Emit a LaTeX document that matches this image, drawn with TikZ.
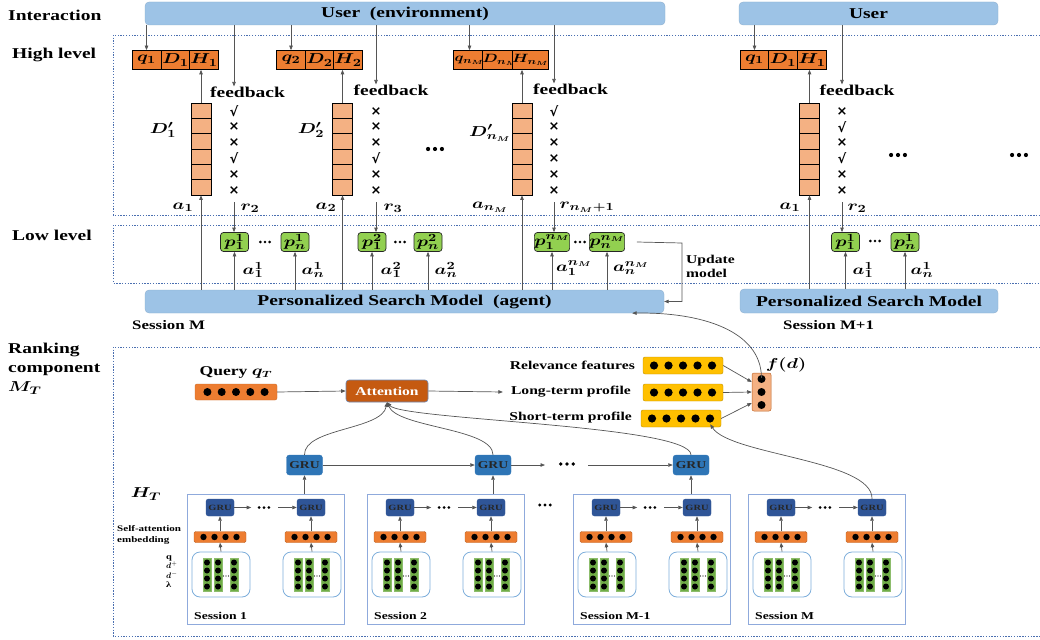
\documentclass[tikz,border=0pt]{standalone}
\usepackage{fontspec}
\usepackage{bm}
\usepackage{graphicx}
\setmainfont{Liberation Serif}[FakeStretch=1.3]
\newfontfamily\symfont{DejaVu Sans}
\usetikzlibrary{arrows.meta,calc}

\definecolor{barblue}{HTML}{9DC3E6}
\definecolor{qorange}{HTML}{ED7D31}
\definecolor{lorange}{HTML}{F4B183}
\definecolor{pgreen}{HTML}{92D050}
\definecolor{grublue}{HTML}{2E75B6}
\definecolor{grudark}{HTML}{2F5597}
\definecolor{attn}{HTML}{C55A11}
\definecolor{vyellow}{HTML}{FFC000}
\definecolor{framedot}{HTML}{4A6FB0}
\definecolor{sessedge}{HTML}{8FAADC}
\definecolor{contedge}{HTML}{7DAEDB}
\definecolor{colgreen}{HTML}{70AD47}
\definecolor{wirecol}{HTML}{555555}

% bold math, widened like the text face
\newcommand{\mth}[1]{\scalebox{1.3}[1]{$\bm{#1}$}}
\newcommand{\ck}{√}
\newcommand{\xx}{×}

% one ranked result list of six documents
\newcommand{\doccol}[2]{%
  \foreach \k in {1,...,6}{\node[dcell] (#1\k) at (#2,95.33+15.33*\k) {};}}
% click feedback beside a result list
\newcommand{\markcol}[3]{%
  \foreach \m [count=\k] in {#3}{\node[chk] (#1\k) at (#2,95.3+15.8*\k) {\m};}}
% an ellipsis drawn as three round dots: name, x, y, dot radius
\newcommand{\edots}[4]{%
  \coordinate (#1) at (#2,#3);
  \foreach \j in {-1,0,1}{\fill ($(#1)+(\j*3.3*#4,0)$) circle (#4);}}

\tikzset{
  wire/.style={draw=wirecol, line width=0.7pt},
  arr/.style={wire, -{Triangle[length=4.5pt,width=3.5pt]}},
  lvlframe/.style={draw=framedot, line width=0.8pt, dash pattern=on 1.3pt off 1.5pt},
  sect/.style={inner sep=0pt, font=\fontsize{15}{19}\selectfont\bfseries},
  bar/.style={rectangle, rounded corners=4pt, fill=barblue, draw=barblue!88!black,
    line width=0.3pt, minimum height=23pt, inner sep=0pt,
    font=\fontsize{15}{17}\selectfont\bfseries},
  qcell/.style={rectangle, fill=qorange, draw=black, line width=0.7pt,
    minimum width=29pt, minimum height=19pt, inner sep=0pt,
    font=\fontsize{15}{16}\selectfont},
  dcell/.style={rectangle, fill=lorange, draw=black, line width=0.7pt,
    minimum width=20pt, minimum height=15.33pt, inner sep=0pt},
  pbox/.style={rectangle, rounded corners=3pt, fill=pgreen, draw=black!85,
    line width=0.7pt, minimum width=28pt, minimum height=19pt, inner sep=0pt,
    font=\fontsize{15}{16}\selectfont},
  lbl/.style={inner sep=0pt, font=\fontsize{15}{17}\selectfont\bfseries},
  mlbl/.style={inner sep=0pt, font=\fontsize{15}{17}\selectfont},
  chk/.style={inner sep=0pt, font=\symfont\bfseries\fontsize{13}{13}\selectfont},
  smlbl/.style={inner sep=0pt, font=\fontsize{12}{14}\selectfont\bfseries},
  vec/.style={rectangle, rounded corners=2pt, minimum height=16pt, inner sep=0pt},
  attbox/.style={rectangle, rounded corners=3pt, fill=attn, draw=grudark!70,
    line width=0.6pt, minimum width=82pt, minimum height=22pt, inner sep=0pt,
    text=white, font=\fontsize{12}{14}\selectfont\bfseries},
  grutop/.style={rectangle, rounded corners=3pt, fill=grublue, draw=grublue,
    minimum width=36pt, minimum height=20pt, inner sep=0pt,
    text=black!85, font=\fontsize{10.5}{12}\selectfont\bfseries},
  sgru/.style={rectangle, rounded corners=2.5pt, fill=grudark, draw=grudark,
    minimum width=28pt, minimum height=17pt, inner sep=0pt,
    text=black!85, font=\fontsize{8}{9}\selectfont\bfseries},
  emb/.style={rectangle, rounded corners=1.5pt, fill=qorange, draw=qorange!80!black,
    line width=0.4pt, minimum width=52pt, minimum height=11pt, inner sep=0pt},
  cont/.style={rectangle, rounded corners=8pt, fill=white, draw=contedge,
    line width=0.8pt, minimum width=58pt, minimum height=45pt, inner sep=0pt},
  sess/.style={rectangle, fill=white, draw=sessedge, line width=1pt,
    minimum width=157pt, minimum height=130pt, inner sep=0pt},
  slbl/.style={inner sep=0pt, font=\fontsize{10.5}{12}\selectfont\bfseries},
}

\begin{document}
\begin{tikzpicture}[x=1pt,y=-1pt]
\useasboundingbox (0,0) rectangle (1040,639);

% ---------------- level frames (open on the right) ----------------
\draw[lvlframe] (1040,35) -- (113,35) -- (113,215) -- (1040,215);
\draw[lvlframe] (1040,225) -- (113,225) -- (113,283) -- (1040,283);
\draw[lvlframe] (1040,347) -- (113,347) -- (113,636) -- (1040,636);

% ---------------- row labels ----------------
\node[sect, anchor=west] (tInter) at (8,15) {Interaction};
\node[sect, anchor=west] (tHigh) at (12,55) {High level};
\node[sect, anchor=west] (tLow) at (12,235) {Low level};
\node[sect, anchor=north west, align=left] (tRank) at (8,343)
  {Ranking\\component\\\mth{M_T}};

% ---------------- users ----------------
\node[bar, minimum width=520pt] (user1) at (405,13.5) {User\ \ (environment)};
\node[bar, minimum width=259pt] (user2) at (868.5,13.5) {User};

% ---------------- agents ----------------
\node[bar, minimum width=519pt] (psm1) at (404.5,301.5) {Personalized Search Model\ \ (agent)};
\node[bar, minimum width=258pt, minimum height=24pt] (psm2) at (869,301) {Personalized Search Model};
\node[smlbl, font=\fontsize{13}{15}\selectfont\bfseries, anchor=west] (sessM) at (132,325) {Session M};
\node[smlbl, font=\fontsize{13}{15}\selectfont\bfseries, anchor=west] (sessM1) at (783,325) {Session M+1};

% ---------------- high level, query 1 ----------------
\node[qcell] (qa) at (146.5,60) {\mth{q_1}};
\node[qcell] (Da) at (175.5,60) {\mth{D_1}};
\node[qcell] (Ha) at (204,60) {\mth{H_1}};
\doccol{ca}{201}
\markcol{ma}{234}{\ck,\xx,\xx,\ck,\xx,\xx}
\node[lbl] (fb1) at (247.5,92) {feedback};
\node[mlbl] (dla) at (163,130) {\mth{D^{\prime}_1}};
\node[mlbl] (ala) at (183,207) {\mth{a_1}};
\node[mlbl] (rla) at (250,208) {\mth{r_2}};
\draw[arr] (user1.south -| qa) -- (qa.north);
\draw[arr] (user1.south -| ma1) -- (fb1.north -| ma1);
\draw[arr] (ca1.north) -- (ca1.north |- Ha.south);

% ---------------- high level, query 2 ----------------
\node[qcell] (qb) at (291,60) {\mth{q_2}};
\node[qcell] (Db) at (319.5,60) {\mth{D_2}};
\node[qcell] (Hb) at (348,60) {\mth{H_2}};
\doccol{cb}{342.5}
\markcol{mb}{376}{\xx,\xx,\xx,\ck,\xx,\xx}
\node[lbl] (fb2) at (391,90) {feedback};
\node[mlbl] (dlb) at (311,130) {\mth{D^{\prime}_2}};
\node[mlbl] (alb) at (326,207) {\mth{a_2}};
\node[mlbl] (rlb) at (393,208) {\mth{r_3}};
\draw[arr] (user1.south -| qb) -- (qb.north);
\draw[arr] (user1.south -| mb1) -- (fb2.north -| mb1);
\draw[arr] (cb1.north) -- (cb1.north |- Hb.south);

\edots{hdots1}{435}{149}{2.1}

% ---------------- high level, query n_M ----------------
\node[qcell, minimum width=32pt, font=\fontsize{12.5}{14}\selectfont] (qc) at (469.5,60) {\mth{q_{n_M}}};
\node[qcell, minimum width=30pt, font=\fontsize{12.5}{14}\selectfont] (Dc) at (500.5,59.5) {\mth{D_{n_M}}};
\node[qcell, minimum width=31pt, font=\fontsize{12.5}{14}\selectfont] (Hc) at (530.5,60) {\mth{H_{n_M}}};
\doccol{cc}{522}
\markcol{mc}{554}{\ck,\xx,\xx,\xx,\xx,\xx}
\node[lbl] (fb3) at (570.5,89) {feedback};
\node[mlbl] (dlc) at (490,133) {\mth{D^{\prime}_{n_M}}};
\node[mlbl] (alc) at (490,207) {\mth{a_{n_M}}};
\node[mlbl] (rlc) at (587,207) {\mth{r_{n_M+1}}};
\draw[arr] (user1.south -| qc) -- (qc.north);
\draw[arr] (user1.south -| mc1) -- (fb3.north -| mc1);
\draw[arr] (cc1.north) -- (cc1.north |- Hc.south);

% ---------------- high level, next session ----------------
\node[qcell] (qd) at (754.5,60) {\mth{q_1}};
\node[qcell] (Dd) at (783,60) {\mth{D_1}};
\node[qcell] (Hd) at (812,60) {\mth{H_1}};
\doccol{cd}{809.5}
\markcol{md}{842}{\xx,\ck,\xx,\ck,\xx,\xx}
\node[lbl] (fb4) at (857,90) {feedback};
\node[mlbl] (ald) at (790,207) {\mth{a_1}};
\node[mlbl] (rld) at (857,208) {\mth{r_2}};
\draw[arr] (user2.south -| qd) -- (qd.north);
\draw[arr] (user2.south -| md1) -- (fb4.north -| md1);
\draw[arr] (cd1.north) -- (cd1.north |- Hd.south);

\edots{hdots2}{898}{155}{2.1}
\edots{hdots3}{1019}{155}{2.1}

% ---------------- low level ----------------
\node[pbox] (pa1) at (234.5,242) {\mth{p_1^1}};
\node[pbox] (pan) at (295,242) {\mth{p_n^1}};
\edots{lda}{265}{242}{1.4}
\node[pbox] (pb1) at (372,242) {\mth{p_1^2}};
\node[pbox] (pbn) at (428,242) {\mth{p_n^2}};
\edots{ldb}{400}{242}{1.4}
\node[pbox] (pc1) at (552,242) {\mth{p_1^{n_M}}};
\node[pbox] (pcn) at (607,242) {\mth{p_n^{n_M}}};
\edots{ldc}{580}{242}{1.4}
\node[pbox] (pd1) at (845.5,242) {\mth{p_1^1}};
\node[pbox] (pdn) at (905,242) {\mth{p_n^1}};
\edots{ldd}{875}{241}{1.4}

\node[mlbl] (la1) at (253,270) {\mth{a_1^1}};
\node[mlbl] (lan) at (313,270) {\mth{a_n^1}};
\node[mlbl] (lb1) at (391,270) {\mth{a_1^2}};
\node[mlbl] (lbn) at (446,270) {\mth{a_n^2}};
\node[mlbl] (lc1) at (574,268) {\mth{a_1^{n_M}}};
\node[mlbl] (lcn) at (631,268) {\mth{a_n^{n_M}}};
\node[mlbl] (ld1) at (863,270) {\mth{a_1^1}};
\node[mlbl] (ldn) at (922,270) {\mth{a_n^1}};

% reward feedback goes down to the low level
\draw[arr] ($(ma6.south)+(0,8)$) -- (ma6.south |- pa1.north);
\draw[arr] ($(mb6.south)+(0,8)$) -- (mb6.south |- pb1.north);
\draw[arr] ($(mc6.south)+(0,8)$) -- (mc6.south |- pc1.north);
\draw[arr] ($(md6.south)+(0,8)$) -- (md6.south |- pd1.north);

% actions of the agent
\foreach \c in {ca6,cb6,cc6}{\draw[arr] (psm1.north -| \c) -- (\c.south);}
\draw[arr] (psm2.north -| cd6) -- (cd6.south);
\foreach \p in {pa1,pan,pb1,pbn,pc1,pcn}{\draw[arr] (psm1.north -| \p) -- (\p.south);}
\foreach \p in {pd1,pdn}{\draw[arr] (psm2.north -| \p) -- (\p.south);}

% model update
\coordinate (updc) at (682,243);
\draw[arr] ([xshift=12pt]pcn.east) -- (updc) |- (psm1.east);
\node[smlbl, anchor=north west, align=left, font=\fontsize{12}{14}\selectfont\bfseries]
  (updl) at (686,255) {Update\\model};

% ---------------- ranking component ----------------
\node[inner sep=0pt, font=\fontsize{13.5}{15}\selectfont\bfseries] (qlab) at (236,372) {Query \mth{q_T}};
\node[vec, fill=qorange, draw=qorange!85!black, minimum width=82pt] (qv) at (236,392) {};
\foreach \k in {-2,...,2}{\fill ($(qv.center)+(14.3*\k,0)$) circle (4);}
\node[attbox] (att) at (387,391) {Attention};
\draw[arr] (qv.east) -- (att.west);

\node[smlbl, anchor=east] (relt) at (635,365) {Relevance features};
\node[smlbl, anchor=east] (ltt) at (631,392) {Long-term profile};
\node[smlbl, anchor=east] (stt) at (632,418) {Short-term profile};
\draw[arr] (att.east) -- ([xshift=-8pt]ltt.west);

\node[vec, fill=vyellow, draw=vyellow!75!black, minimum width=80pt, minimum height=17pt] (rel) at (683,365.5) {};
\node[vec, fill=vyellow, draw=vyellow!75!black, minimum width=80pt, minimum height=17pt] (lt) at (683,392.5) {};
\node[vec, fill=vyellow, draw=vyellow!75!black, minimum width=80pt, minimum height=17pt] (stp) at (681,418.5) {};
\foreach \v in {rel,lt,stp}{\foreach \k in {-2,...,2}{\fill ($(\v.center)+(14.5*\k,0)$) circle (4.1);}}

\node[rectangle, rounded corners=2pt, fill=lorange, draw=qorange!80!black, line width=0.5pt,
  minimum width=19pt, minimum height=38pt, inner sep=0pt] (fdbox) at (761.5,392) {};
\foreach \k in {-1,0,1}{\fill ($(fdbox.center)+(0,13*\k)$) circle (4);}
\node[mlbl] (fdl) at (786,365) {\mth{f(d)}};

\draw[arr] (rel.east) -- ($(fdbox.west)+(0,-10)$);
\draw[arr] (lt.east) -- (fdbox.west);
\draw[arr] (stp.east) -- ($(fdbox.west)+(0,11)$);
\draw[arr] ($(fdbox.north)+(0,5)$) .. controls (761,330) and (700,312) .. ($(psm1.south east)+(-32,0)$);

% session-level GRU
\node[grutop] (gt1) at (304.5,465) {GRU};
\node[grutop] (gt2) at (493,465) {GRU};
\node[grutop] (gt3) at (691,465) {GRU};
\draw[arr] (gt1.east) -- (gt2.west);
\draw[arr] (gt2.east) -- (545,465);
\edots{gdots}{567}{464}{1.9}
\draw[arr] (588,465) -- (gt3.west);

\draw[arr] (gt1.north) .. controls (304,428) and (382,430) .. (att.south);
\draw[arr] (gt2.north) .. controls (493,428) and (398,428) .. (att.south);
\draw[arr] (gt3.north) .. controls (690,425) and (402,420) .. (att.south);

\node[inner sep=0pt, font=\fontsize{15}{17}\selectfont] (htl) at (146,494) {\mth{H_T}};
\node[inner sep=0pt, anchor=west, align=left, font=\fontsize{8.5}{10.5}\selectfont\bfseries]
  (sael) at (117,535) {Self-attention\\embedding};
\node[inner sep=0pt, anchor=north west, align=left, font=\fontsize{8}{9.6}\selectfont\bfseries]
  (inl) at (166,555) {q\\$\bm{d}^{+}$\\$\bm{d}^{-}$\\λ};

% ---------------- sessions ----------------
\foreach \L/\sname/\i in {187/Session 1/a, 367/Session 2/b, 573/Session M-1/c, 748/Session M/d}{
  \node[sess, anchor=north west] (S\i) at (\L,494) {};
  \node[sgru] (g1\i) at (\L+33,507.5) {GRU};
  \node[sgru] (g2\i) at (\L+124,507.5) {GRU};
  \node[emb] (e1\i) at (\L+33,537) {};
  \node[emb] (e2\i) at (\L+124,537) {};
  \node[cont] (k1\i) at (\L+34,574.5) {};
  \node[cont] (k2\i) at (\L+125,574.5) {};
  \foreach \e in {e1\i,e2\i}{
    \foreach \k in {-1.5,-0.5,0.5,1.5}{\fill ($(\e.center)+(11*\k,0)$) circle (3.2);}}
  \foreach \kk in {k1\i,k2\i}{
    \foreach \dx in {-14,-3,13}{
      \filldraw[fill=colgreen, draw=colgreen!80!white, line width=0.5pt]
        ($(\kk.center)+(\dx-4,-16.5)$) rectangle ($(\kk.center)+(\dx+4,16.5)$);
      \foreach \dy in {-12,-4,4,12}{\fill ($(\kk.center)+(\dx,\dy)$) circle (3);}}
    \foreach \dx in {2.5,5,7.5}{\fill ($(\kk.center)+(\dx,1.5)$) circle (0.6);}}
  \draw[arr] (k1\i.north) -- (e1\i.south);
  \draw[arr] (e1\i.north) -- (g1\i.south);
  \draw[arr] (k2\i.north) -- (e2\i.south);
  \draw[arr] (e2\i.north) -- (g2\i.south);
  \draw[arr] (g1\i.east) -- ++(17,0);
  \edots{sd\i}{\L+77}{507.5}{1.5}
  \draw[arr] (\L+91,507.5) -- (g2\i.west);
  \node[slbl, anchor=west] (sl\i) at (\L+7,616) {\sname};
}
\edots{sdots}{545}{505}{1.6}

\draw[arr] (Sa.north -| gt1) -- (gt1.south);
\draw[arr] (Sb.north -| gt2) -- (gt2.south);
\draw[arr] (Sc.north -| gt3) -- (gt3.south);
\draw[arr] (g2d.north) .. controls (873,460) and (730,455) .. ($(stp.south east)+(-11,-3)$);

\end{tikzpicture}
\end{document}
